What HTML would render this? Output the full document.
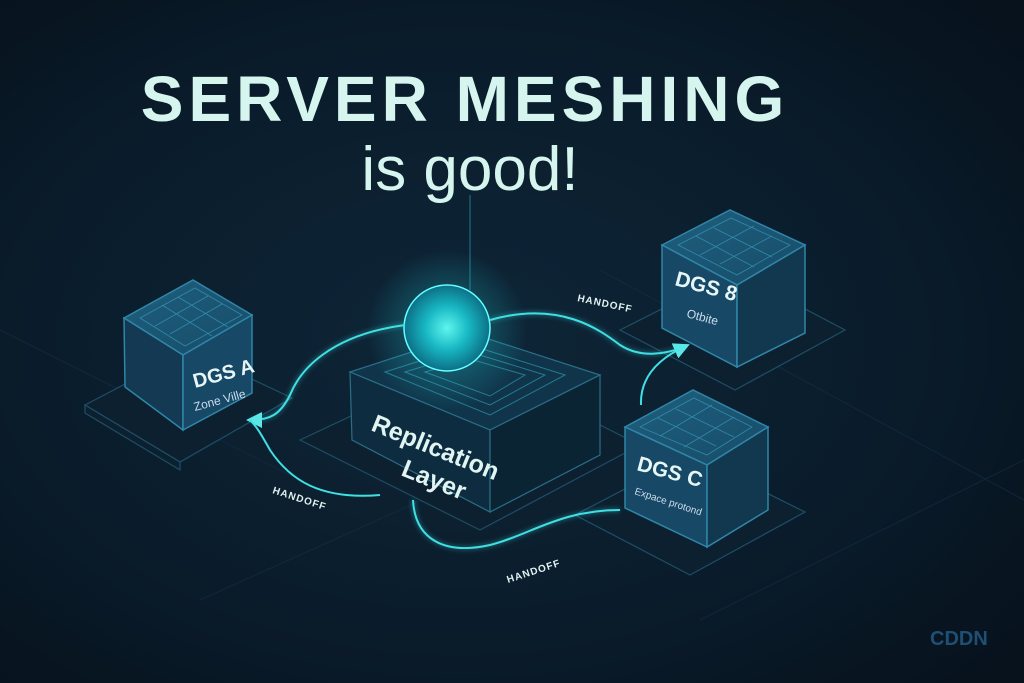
<!DOCTYPE html>
<html><head><meta charset="utf-8"><style>
html,body{margin:0;padding:0;background:#081522;}
svg{display:block}
</style></head><body>
<svg width="1024" height="683" viewBox="0 0 1024 683" xmlns="http://www.w3.org/2000/svg">
<defs>
<radialGradient id="bg" cx="0.45" cy="0.5" r="0.7">
<stop offset="0" stop-color="#0e2638"/><stop offset="0.6" stop-color="#0a1c2b"/><stop offset="1" stop-color="#07121d"/>
</radialGradient>
<radialGradient id="sph" cx="0.5" cy="0.5" r="0.5">
<stop offset="0" stop-color="#5ff5ee"/><stop offset="0.5" stop-color="#18b8c4"/><stop offset="1" stop-color="#0c6f86"/>
</radialGradient>
<radialGradient id="glow" cx="0.5" cy="0.5" r="0.5">
<stop offset="0" stop-color="#1fd0d8" stop-opacity="0.45"/><stop offset="1" stop-color="#1fd0d8" stop-opacity="0"/>
</radialGradient>
<linearGradient id="top" x1="0" y1="0" x2="1" y2="1"><stop offset="0" stop-color="#1e5f7e"/><stop offset="1" stop-color="#174c68"/></linearGradient>
<marker id="ar" markerWidth="10" markerHeight="10" refX="6" refY="5" orient="auto"><path d="M0,1 L8,5 L0,9 Z" fill="#5ee8e8"/></marker>
<filter id="bl"><feGaussianBlur stdDeviation="2"/></filter>
</defs>
<rect width="1024" height="683" fill="url(#bg)"/>
<g stroke="#13324a" stroke-width="1" fill="none" opacity="0.6">
<path d="M0,330 L300,480 M600,270 L1024,500 M200,600 L600,420 M700,620 L1024,460"/>
</g>
<line x1="470" y1="195" x2="470" y2="290" stroke="#1e7a8e" stroke-width="1"/>

<text x="465" y="121" text-anchor="middle" font-family="Liberation Sans, sans-serif" font-weight="bold" font-size="64" letter-spacing="5" fill="#d6f5ef">SERVER MESHING</text>
<text x="470" y="190" text-anchor="middle" font-family="Liberation Sans, sans-serif" font-size="62" fill="#d6f5ef">is good!</text>

<g fill="#0c2030" stroke="#1f4e66" stroke-width="1.2">
<polygon points="85,405 190,350 292,398 180,462"/>
<polygon points="85,405 180,462 180,470 85,413"/>
<polygon points="620,330 735,272 845,330 735,390"/>
<polygon points="575,515 690,455 805,512 690,575"/>
<polygon points="300,440 470,360 640,445 480,530"/>
</g>

<g stroke="#2a6e88" stroke-width="1.2">
<polygon points="350,372 470,333 600,375 490,430" fill="#10354a"/>
<polygon points="350,372 490,430 490,512 352,440" fill="#0e2c3f"/>
<polygon points="490,430 600,375 600,455 490,512" fill="#0b2434"/>
</g>
<g fill="none" stroke="#2a8aa4" stroke-width="1" opacity="0.8">
<polygon points="385,372 470,345 565,375 490,415"/>
<polygon points="405,372 470,352 545,375 490,405"/>
<polygon points="425,372 470,359 525,375 490,396"/>
</g>
<text transform="translate(370,430) rotate(22)" font-family="Liberation Sans, sans-serif" font-weight="bold" font-size="25" fill="#e0f4f2">Replication</text>
<text transform="translate(400,475) rotate(22)" font-family="Liberation Sans, sans-serif" font-weight="bold" font-size="25" fill="#e0f4f2">Layer</text>

<circle cx="447" cy="330" r="80" fill="url(#glow)"/>
<circle cx="447" cy="328" r="43" fill="url(#sph)" stroke="#6ff" stroke-width="1.5"/>

<g stroke="#2f86a8" stroke-width="1.5">
<polygon points="124,318 193,280 252,315 183,355" fill="url(#top)"/>
<polygon points="124,318 183,355 183,430 125,387" fill="#133a52"/>
<polygon points="183,355 252,315 252,393 183,430" fill="#174866"/>
</g>
<g stroke="#3a9ec0" stroke-width="0.8" opacity="0.7" fill="none">
<path d="M140,318 L195,288 L242,315 L185,346 Z M155,326 L208,296 M170,334 L222,304 M162,305 L212,336 M178,297 L228,327"/>
</g>
<text transform="translate(195,388) rotate(-15)" font-family="Liberation Sans, sans-serif" font-weight="bold" font-size="20" fill="#e6f6f6">DGS A</text>
<text transform="translate(195,411) rotate(-15)" font-family="Liberation Sans, sans-serif" font-size="12" fill="#cde">Zone Ville</text>

<g stroke="#2f86a8" stroke-width="1.5">
<polygon points="662,245 730,210 805,245 737,285" fill="url(#top)"/>
<polygon points="662,245 737,285 737,367 662,328" fill="#174866"/>
<polygon points="737,285 805,245 805,333 737,367" fill="#12384f"/>
</g>
<g stroke="#3a9ec0" stroke-width="0.8" opacity="0.7" fill="none">
<path d="M678,245 L731,218 L790,245 L737,275 Z M696,236 L754,267 M714,228 L772,257 M700,255 L754,226 M720,264 L772,236"/>
</g>
<text transform="translate(674,285) rotate(15)" font-family="Liberation Sans, sans-serif" font-weight="bold" font-size="21" fill="#e6f6f6">DGS 8</text>
<text transform="translate(686,317) rotate(15)" font-family="Liberation Sans, sans-serif" font-size="12" fill="#cde">Otbite</text>

<g stroke="#2f86a8" stroke-width="1.5">
<polygon points="625,427 693,390 768,427 707,465" fill="url(#top)"/>
<polygon points="625,427 707,465 707,547 625,508" fill="#174866"/>
<polygon points="707,465 768,427 768,510 707,547" fill="#12384f"/>
</g>
<g stroke="#3a9ec0" stroke-width="0.8" opacity="0.7" fill="none">
<path d="M640,427 L694,398 L752,427 L707,455 Z M658,418 L716,446 M676,409 L734,437 M660,436 L712,405 M684,447 L734,417"/>
</g>
<text transform="translate(636,470) rotate(15)" font-family="Liberation Sans, sans-serif" font-weight="bold" font-size="21" fill="#e6f6f6">DGS C</text>
<text transform="translate(634,494) rotate(18)" font-family="Liberation Sans, sans-serif" font-size="10" fill="#cde">Expace protond</text>

<g fill="none" stroke="#3fe0e4" stroke-width="2">
<path d="M405,325 C330,335 300,370 290,395 C280,415 270,420 250,420" marker-end="url(#ar)"/>
<path d="M380,495 C320,500 290,480 270,450 C262,436 258,428 250,420"/>
<path d="M490,320 C560,300 600,330 620,345 C640,358 665,355 686,346" marker-end="url(#ar)"/>
<path d="M641,405 C640,380 655,360 686,346" marker-end="url(#ar)"/>
<path d="M413,500 C415,540 445,555 490,545 C530,535 560,510 620,510"/>
</g>
<g fill="none" stroke="#3fe0e4" stroke-width="5" opacity="0.25" filter="url(#bl)">
<path d="M405,325 C330,335 300,370 290,395 C280,415 270,420 250,420"/>
<path d="M490,320 C560,300 600,330 620,345 C640,358 665,355 686,346"/>
<path d="M413,500 C415,540 445,555 490,545 C530,535 560,510 620,510"/>
</g>

<g font-family="Liberation Sans, sans-serif" font-size="10" font-weight="bold" fill="#e0f2f2" letter-spacing="1">
<text transform="translate(577,301) rotate(12)">HANDOFF</text>
<text transform="translate(272,493) rotate(18)">HANDOFF</text>
<text transform="translate(508,583) rotate(-18)">HANDOFF</text>
</g>
<text x="930" y="645" font-family="Liberation Sans, sans-serif" font-weight="bold" font-size="20" fill="#1e4f74">CDDN</text>
</svg>
</body></html>
